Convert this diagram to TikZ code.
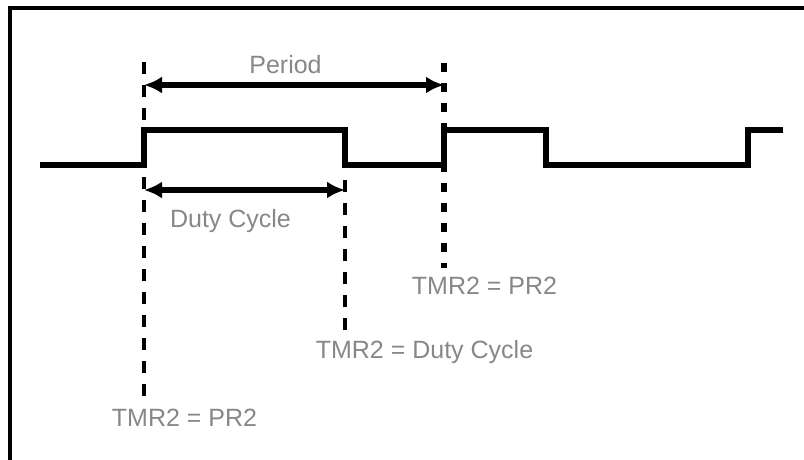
\documentclass[tikz,border=0pt]{standalone}
\usepackage{fontspec}
\setmainfont{Liberation Sans}
\usetikzlibrary{arrows.meta}
\definecolor{labelgray}{RGB}{135,135,135}
\tikzset{
  wave/.style={line width=6.5pt, line join=miter},
  frameline/.style={line width=4.5pt},
  dimarrow/.style={line width=5.5pt, {Latex[length=18pt,width=17pt]}-{Latex[length=18pt,width=17pt]}},
  thindash/.style={line width=3.5pt, dash pattern=on 12pt off 11pt},
  thickdash/.style={line width=6.5pt, dash pattern=on 9pt off 11pt},
  lbl/.style={inner sep=0pt, text height=18pt, text depth=0pt, text=labelgray, font=\fontsize{25}{30}\selectfont}
}
\begin{document}
\begin{tikzpicture}[x=1pt, y=-1pt]
\useasboundingbox (0,0) rectangle (804,460);
% frame
\coordinate (f1) at (10,460);
\coordinate (f2) at (10,8);
\coordinate (f3) at (804,8);
\draw[frameline] (f1) -- (f2) -- (f3);
% waveform
\coordinate (w0) at (40,165);
\coordinate (w1) at (144,165);
\coordinate (w2) at (144,130);
\coordinate (w3) at (345,130);
\coordinate (w4) at (345,165);
\coordinate (w5) at (444,165);
\coordinate (w6) at (444,130);
\coordinate (w7) at (546,130);
\coordinate (w8) at (546,165);
\coordinate (w9) at (748,165);
\coordinate (w10) at (748,130);
\coordinate (w11) at (783,130);
\draw[wave] (w0) -- (w1) -- (w2) -- (w3) -- (w4) -- (w5) -- (w6) -- (w7) -- (w8) -- (w9) -- (w10) -- (w11);
% dashed markers
\coordinate (d1a) at (144,62);
\coordinate (d1b) at (144,405);
\coordinate (d2a) at (345,180);
\coordinate (d2b) at (345,336);
\coordinate (d3a) at (444,63);
\coordinate (d3b) at (444,268);
\draw[thindash] (d1a) -- (d1b);
\draw[thindash] (d2a) -- (d2b);
\draw[thickdash] (d3a) -- (d3b);
% dimension arrows
\coordinate (pa) at (144,85);
\coordinate (pb) at (444,85);
\coordinate (da) at (144,190);
\coordinate (db) at (345,190);
\draw[dimarrow] (pa) -- (pb);
\draw[dimarrow] (da) -- (db);
% labels
\node[lbl] (period) at (285.5,65) {Period};
\node[lbl] (duty) at (230.5,218) {Duty Cycle};
\node[lbl] (pr2a) at (484.5,285) {TMR2 = PR2};
\node[lbl] (tdc) at (424.5,349) {TMR2 = Duty Cycle};
\node[lbl] (pr2b) at (184.5,417) {TMR2 = PR2};
\end{tikzpicture}
\end{document}
